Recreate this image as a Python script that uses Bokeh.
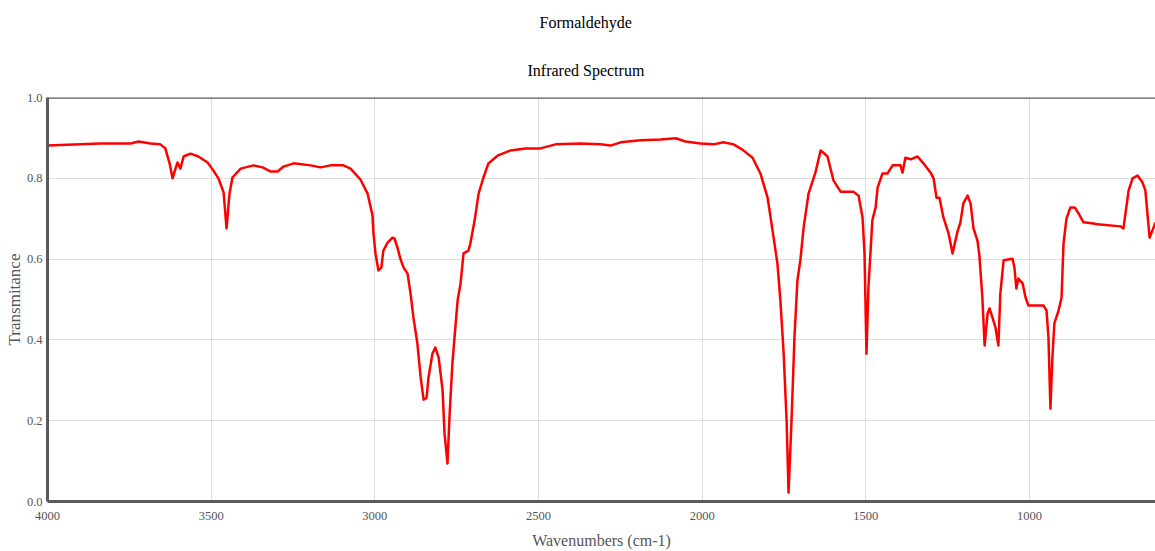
from bokeh.plotting import figure
from bokeh.models import FixedTicker, Title, Span, PrintfTickFormatter, Range1d
from bokeh.embed import file_html
from bokeh.resources import INLINE

chart_title = "Formaldehyde"
chart_subtitle = "Infrared Spectrum"
x_label = "Wavenumbers (cm-1)"
y_label = "Transmitance"

wavenumber = [
    4000, 3838, 3746, 3722, 3685, 3655, 3640, 3627, 3618, 3609, 3603, 3594, 3584, 3563, 3539, 3511,
    3493, 3478, 3462, 3453, 3444, 3435, 3410, 3371, 3343, 3319, 3297, 3279, 3248, 3196, 3166, 3135,
    3096, 3074, 3044, 3022, 3007, 3004, 2998, 2989, 2980, 2974, 2961, 2946, 2940, 2931, 2922, 2912,
    2900, 2891, 2882, 2870, 2860, 2851, 2842, 2836, 2824, 2815, 2805, 2793, 2787, 2778, 2772, 2763,
    2754, 2747, 2738, 2729, 2714, 2708, 2695, 2683, 2668, 2653, 2625, 2585, 2540, 2494, 2448, 2372,
    2311, 2280, 2249, 2188, 2127, 2081, 2051, 2005, 1965, 1935, 1904, 1877, 1846, 1822, 1800, 1785,
    1770, 1761, 1751, 1742, 1736, 1727, 1718, 1709, 1700, 1690, 1675, 1654, 1638, 1617, 1599, 1577,
    1538, 1522, 1510, 1504, 1498, 1492, 1480, 1470, 1464, 1449, 1434, 1418, 1394, 1388, 1379, 1363,
    1342, 1324, 1302, 1293, 1284, 1275, 1263, 1247, 1235, 1220, 1211, 1202, 1189, 1180, 1171, 1159,
    1153, 1147, 1144, 1137, 1128, 1122, 1113, 1104, 1095, 1089, 1079, 1052, 1046, 1040, 1034, 1021,
    1012, 1003, 982, 957, 948, 942, 936, 930, 924, 911, 902, 896, 887, 875, 862, 850,
    835, 804, 792, 722, 713, 697, 685, 670, 655, 646, 633, 621, 615,
]
transmittance = [
    0.881, 0.886, 0.886, 0.891, 0.886, 0.884, 0.874, 0.837, 0.800, 0.824, 0.839, 0.824, 0.854, 0.861, 0.854, 0.839,
    0.819, 0.800, 0.765, 0.676, 0.762, 0.802, 0.824, 0.832, 0.827, 0.817, 0.817, 0.829, 0.837, 0.832, 0.827, 0.832,
    0.832, 0.824, 0.797, 0.762, 0.708, 0.663, 0.614, 0.572, 0.579, 0.621, 0.641, 0.653, 0.651, 0.629, 0.601, 0.579,
    0.564, 0.515, 0.455, 0.391, 0.307, 0.252, 0.257, 0.307, 0.366, 0.381, 0.356, 0.275, 0.168, 0.094, 0.208, 0.342,
    0.431, 0.498, 0.540, 0.614, 0.621, 0.639, 0.696, 0.762, 0.802, 0.837, 0.856, 0.869, 0.874, 0.874, 0.884, 0.886,
    0.884, 0.881, 0.889, 0.894, 0.896, 0.899, 0.891, 0.886, 0.884, 0.889, 0.884, 0.871, 0.851, 0.812, 0.752, 0.671,
    0.589, 0.498, 0.366, 0.200, 0.022, 0.200, 0.406, 0.547, 0.597, 0.678, 0.762, 0.814, 0.869, 0.854, 0.795, 0.767,
    0.767, 0.757, 0.703, 0.614, 0.366, 0.530, 0.696, 0.728, 0.777, 0.812, 0.812, 0.832, 0.832, 0.814, 0.851, 0.847,
    0.854, 0.837, 0.814, 0.800, 0.752, 0.752, 0.703, 0.663, 0.614, 0.668, 0.691, 0.738, 0.757, 0.738, 0.676, 0.646,
    0.609, 0.540, 0.505, 0.386, 0.465, 0.478, 0.455, 0.431, 0.386, 0.515, 0.597, 0.601, 0.579, 0.527, 0.552, 0.540,
    0.505, 0.485, 0.485, 0.485, 0.473, 0.406, 0.230, 0.356, 0.441, 0.473, 0.505, 0.639, 0.700, 0.728, 0.728, 0.713,
    0.691, 0.688, 0.686, 0.681, 0.676, 0.770, 0.800, 0.807, 0.790, 0.770, 0.653, 0.678, 0.691,
]
x_ticks = [4000, 3500, 3000, 2500, 2000, 1500, 1000]
y_ticks = [0.0, 0.2, 0.4, 0.6, 0.8, 1.0]

SERIF = "Liberation Serif"
AXIS_COLOR = "#5a5a5a"
TEXT_COLOR = "#555555"

p = figure(
    width=1155, height=551, output_backend="svg", toolbar_location=None, title=None,
    x_range=Range1d(4000, 615), y_range=Range1d(0, 1.0),
    min_border_left=47, min_border_right=0, min_border_top=97, min_border_bottom=50,
)
p.outline_line_color = None
p.background_fill_color = "white"

p.add_layout(Title(text=chart_subtitle, align="left", offset=480, text_font=SERIF,
                   text_font_size="16px", text_font_style="normal", text_color="black",
                   standoff=37), "above")
p.add_layout(Title(text=chart_title, align="left", offset=492, text_font=SERIF,
                   text_font_size="16px", text_font_style="normal", text_color="black",
                   standoff=22), "above")

p.line(wavenumber, transmittance, line_color="#ff0000", line_width=2.5, line_join="round")

p.add_layout(Span(location=1.0, dimension="width", line_color=AXIS_COLOR, line_width=2.5))

for ax in (p.xaxis[0], p.yaxis[0]):
    ax.axis_line_color = AXIS_COLOR
    ax.axis_line_width = 3
    ax.major_tick_line_color = None
    ax.minor_tick_line_color = None
    ax.major_tick_out = 0
    ax.major_tick_in = 0
    ax.minor_tick_out = 0
    ax.minor_tick_in = 0
    ax.major_label_text_font = SERIF
    ax.major_label_text_font_size = "12.5px"
    ax.major_label_text_color = TEXT_COLOR
    ax.axis_label_text_font = SERIF
    ax.axis_label_text_font_style = "normal"
    ax.axis_label_text_color = TEXT_COLOR

p.xaxis.ticker = FixedTicker(ticks=x_ticks)
p.yaxis.ticker = FixedTicker(ticks=y_ticks)
p.yaxis.formatter = PrintfTickFormatter(format="%.1f")
p.xaxis.axis_label = x_label
p.yaxis.axis_label = y_label
p.xaxis.axis_label_text_font_size = "16px"
p.yaxis.axis_label_text_font_size = "17px"
p.xaxis.major_label_standoff = 10
p.xaxis.axis_label_standoff = 9
p.yaxis.major_label_standoff = 5
p.yaxis.axis_label_standoff = 0

p.xgrid.ticker = FixedTicker(ticks=x_ticks)
p.ygrid.ticker = FixedTicker(ticks=y_ticks)
p.grid.grid_line_color = "#dddddd"
p.grid.grid_line_width = 1

open("out.html", "w").write(file_html(p, INLINE))
